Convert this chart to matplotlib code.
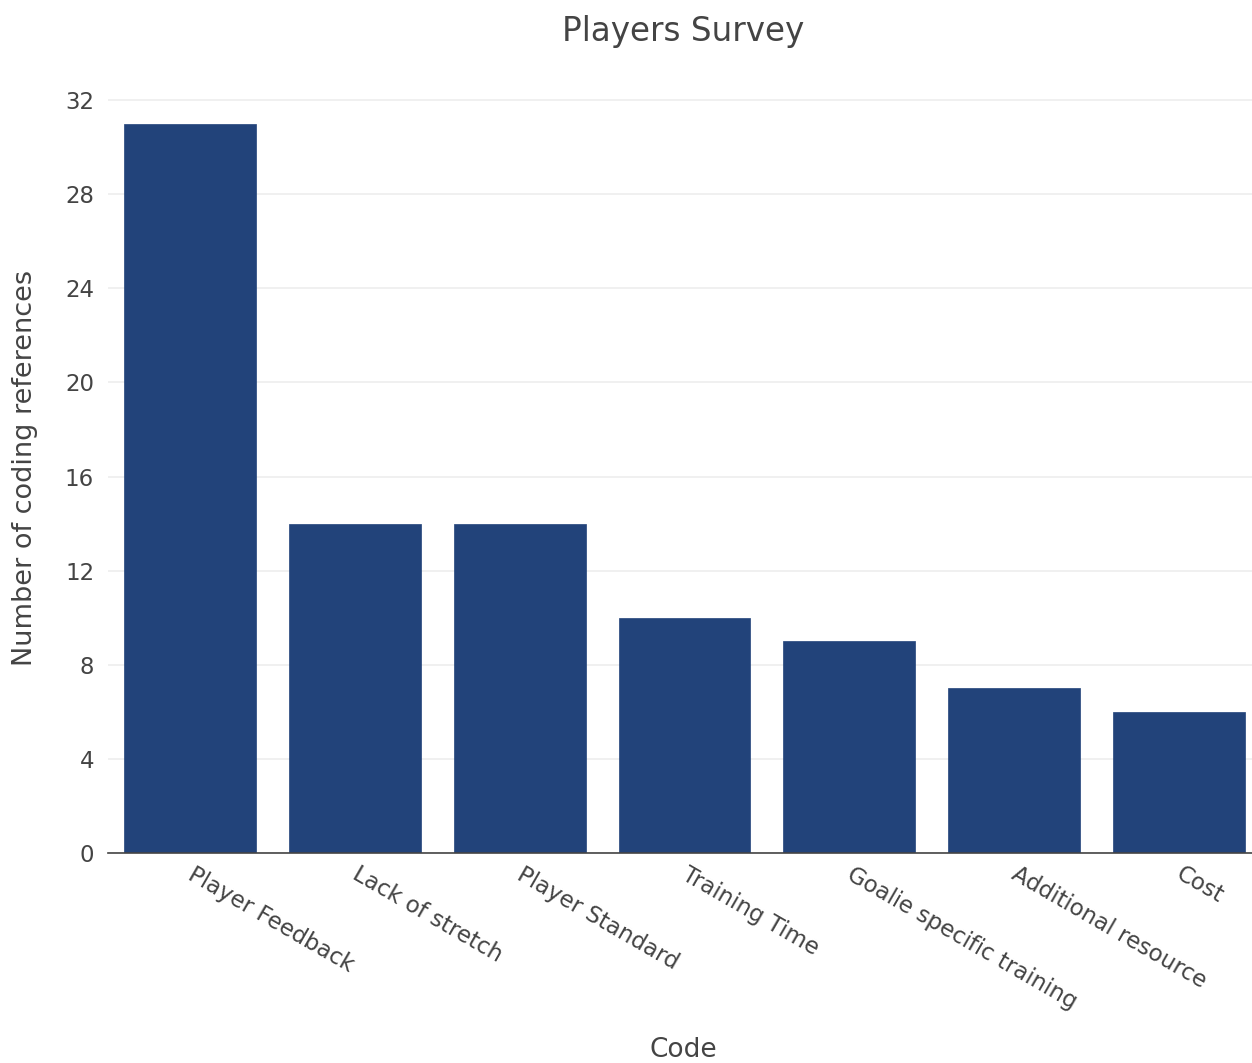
import matplotlib.pyplot as plt
from matplotlib.transforms import ScaledTranslation

plt.rcParams["font.family"] = ["DejaVu Sans"]

codes = ["Player Feedback", "Lack of stretch", "Player Standard", "Training Time",
         "Goalie specific training", "Additional resource", "Cost"]
counts = [31, 14, 14, 10, 9, 7, 6]
y_ticks = [0, 4, 8, 12, 16, 20, 24, 28, 32]

W, H = 1252, 1063
fig = plt.figure(figsize=(W / 100, H / 100), dpi=100)
# axes box in pixels: left 108, right ~1261 (clipped by figure), bottom y=853, top ~86
ax = fig.add_axes([108 / W, 1 - 853 / H, (1261 - 108) / W, (853 - 86) / H])

ax.bar(range(len(codes)), counts, width=0.8, color="#22437a", edgecolor="#22437a",
       linewidth=0.5, zorder=3)

ax.set_xlim(-0.5, len(codes) - 0.5)
ax.set_ylim(0, 32.6)
ax.set_yticks(y_ticks)
ax.grid(axis="y", color="#eeeeee", linewidth=1.2, zorder=0)
ax.tick_params(axis="y", length=0, pad=10, labelsize=16.5, labelcolor="#444444")
ax.tick_params(axis="x", length=0, pad=7)

for s in ["top", "right", "left"]:
    ax.spines[s].set_visible(False)
ax.spines["bottom"].set_color("#444444")
ax.spines["bottom"].set_linewidth(1.2)
ax.spines["bottom"].set_zorder(4)

ax.set_xticks(range(len(codes)))
ax.set_xticklabels(codes, rotation=-30, ha="left", va="top", rotation_mode="anchor",
                   fontsize=16.5, color="#444444")
shift = ScaledTranslation(5 / 100, 0, fig.dpi_scale_trans)
for lbl in ax.get_xticklabels():
    lbl.set_transform(lbl.get_transform() + shift)

fig.text(683 / W, 1 - 31 / H, "Players Survey", ha="center", va="center",
         fontsize=23.5, color="#444444")
fig.text(683 / W, 1 - 1050 / H, "Code", ha="center", va="center",
         fontsize=19, color="#444444")
fig.text(25 / W, 1 - 468 / H, "Number of coding references", ha="center", va="center",
         rotation=90, fontsize=19.5, color="#444444")

fig.savefig("out.png", dpi=100)
